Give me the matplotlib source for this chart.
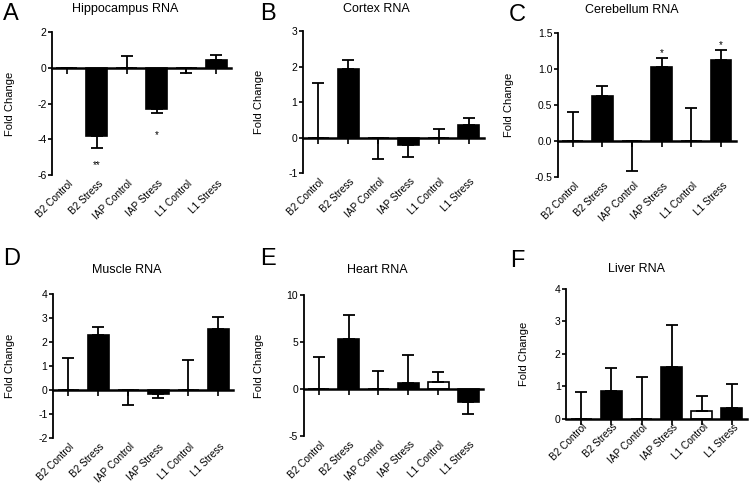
import matplotlib
matplotlib.use("Agg")
import matplotlib.pyplot as plt
import matplotlib.transforms as mtransforms

plt.rcParams['font.family'] = ['Liberation Sans', 'DejaVu Sans']

categories = ["B2 Control", "B2 Stress", "IAP Control", "IAP Stress", "L1 Control", "L1 Stress"]

#bar values and one-sided errors (sign = direction of the error bar)
hippo_vals = [0, -3.84, 0, -2.28, 0, 0.43]
hippo_err = [0, -0.63, 0.67, -0.24, -0.30, 0.31]
cortex_vals = [0, 1.92, 0, -0.22, 0, 0.36]
cortex_err = [1.55, 0.26, -0.61, -0.34, 0.23, 0.18]
cereb_vals = [0, 0.62, 0, 1.03, 0, 1.13]
cereb_err = [0.40, 0.15, -0.41, 0.12, 0.46, 0.14]
muscle_vals = [0, 2.28, 0, -0.17, 0, 2.54]
muscle_err = [1.32, 0.34, -0.64, -0.18, 1.25, 0.50]
heart_vals = [0, 5.37, 0, 0.64, 0.78, -1.42]
heart_err = [3.38, 2.49, 1.89, 2.99, 1.03, -1.21]
liver_vals = [0, 0.87, 0, 1.59, 0.26, 0.34]
liver_err = [0.83, 0.71, 1.29, 1.31, 0.45, 0.74]

#significance marks: (bar index, y, text)
hippo_marks = [(1, -5.45, "**"), (3, -3.75, "*")]
cereb_marks = [(3, 1.22, "*"), (5, 1.33, "*")]

panels = [
    #letter, title, vals, err, ylim, ticks, fmt, white bars, marks, axes rect, letter pos, title pos, ylabel x
    ("A", "Hippocampus RNA", hippo_vals, hippo_err, (-6, 2), [-6, -4, -2, 0, 2], "%d", [], hippo_marks,
     [0.0693, 0.6436, 0.239, 0.291], (3, 3), (125, 9), 5),
    ("B", "Cortex RNA", cortex_vals, cortex_err, (-1, 3), [-1, 0, 1, 2, 3], "%d", [], [],
     [0.404, 0.6477, 0.241, 0.289], (260, 3), (376, 9), 254),
    ("C", "Cerebellum RNA", cereb_vals, cereb_err, (-0.5, 1.5), [-0.5, 0, 0.5, 1.0, 1.5], "%.1f", [], cereb_marks,
     [0.744, 0.6395, 0.237, 0.293], (509, 4), (632, 10), 504),
    ("D", "Muscle RNA", muscle_vals, muscle_err, (-2, 4), [-2, -1, 0, 1, 2, 3, 4], "%d", [], [],
     [0.0707, 0.108, 0.240, 0.293], (3, 248), (127, 270), 5),
    ("E", "Heart RNA", heart_vals, heart_err, (-5, 10), [-5, 0, 5, 10], "%d", [4], [],
     [0.405, 0.112, 0.239, 0.287], (260, 248), (377, 270), 254),
    ("F", "Liver RNA", liver_vals, liver_err, (0, 4), [0, 1, 2, 3, 4], "%d", [4], [],
     [0.755, 0.1466, 0.241, 0.265], (510, 250), (637, 269), 519),
]

W, H = 750, 491
fig = plt.figure(figsize=(W / 100, H / 100), dpi=100)

for letter, title, vals, err, ylim, ticks, fmt, white, marks, rect, lpos, tpos, ylx in panels:
    ax = fig.add_axes(rect)
    x = list(range(len(categories)))
    colors = ["white" if i in white else "black" for i in x]
    ax.bar(x, vals, width=0.7, color=colors, edgecolor="black", linewidth=1.2, zorder=2)
    lower = [-e if e < 0 else 0 for e in err]
    upper = [e if e > 0 else 0 for e in err]
    ax.errorbar(x, vals, yerr=[lower, upper], fmt="none", ecolor="black",
                elinewidth=1.3, capsize=4, capthick=1.3, zorder=3)
    for i, y, t in marks:
        ax.text(i, y, t, ha="center", va="center", fontsize=7)

    ax.set_xlim(-0.5, 5.5)
    ax.set_ylim(ylim)
    ax.set_yticks(ticks)
    ax.set_yticklabels([fmt % t for t in ticks], fontsize=7.5)
    ax.spines["top"].set_visible(False)
    ax.spines["right"].set_visible(False)
    ax.spines["bottom"].set_position(("data", 0))
    ax.spines["left"].set_linewidth(1.3)
    ax.spines["bottom"].set_linewidth(1.8)
    ax.spines["bottom"].set_zorder(4)
    ax.set_xticks(x)
    ax.tick_params(axis="x", direction="out", length=4, width=1.2, labelbottom=False)
    ax.tick_params(axis="y", direction="out", length=3, width=1.2, pad=1)

    #category labels below the axes
    trans = mtransforms.blended_transform_factory(ax.transData, ax.transAxes)
    for i, c in enumerate(categories):
        ax.text(i + 0.15, -0.05, c, transform=trans, rotation=45, rotation_mode="anchor",
                ha="right", va="center", fontsize=7.2)

    fig.text(lpos[0] / W, 1 - lpos[1] / H, letter, fontsize=17, ha="left", va="top")
    fig.text(tpos[0] / W, 1 - tpos[1] / H, title, fontsize=9, ha="center", va="center")
    fig.text(ylx / W, rect[1] + rect[3] / 2, "Fold Change", fontsize=8, rotation=90,
             ha="left", va="center")

fig.savefig("out.png", dpi=100)
